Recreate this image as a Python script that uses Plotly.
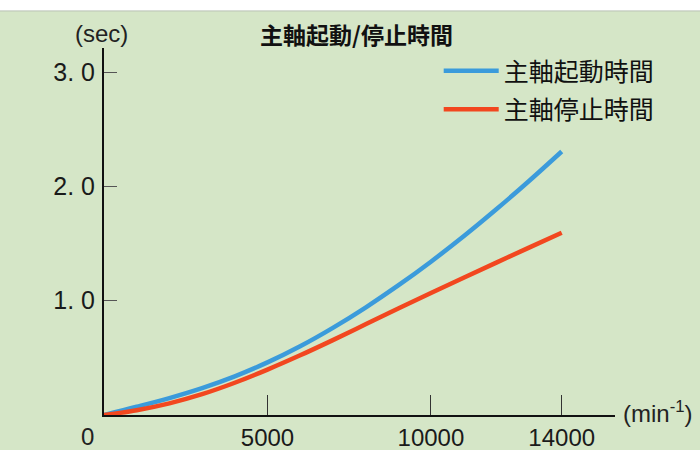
import plotly.graph_objects as go

# Data
speed = [0, 1000, 2000, 3000, 4000, 5000, 6000, 7000, 8000, 9000, 10000, 11000, 12000, 13000, 14000]
start_time = [0.0, 0.072, 0.148, 0.235, 0.338, 0.46, 0.601, 0.762, 0.94, 1.133, 1.341, 1.563, 1.799, 2.047, 2.305]
stop_time = [0.0, 0.042, 0.102, 0.182, 0.282, 0.397, 0.522, 0.655, 0.793, 0.931, 1.067, 1.201, 1.333, 1.464, 1.594]

series_names = ["主軸起動時間", "主軸停止時間"]
title_text = "主軸起動/停止時間"
x_tick_vals = [5000, 10000, 14000]
x_tick_text = ["5000", "10000", "14000"]
y_tick_vals = [1.0, 2.0, 3.0]
y_tick_text = ["1. 0", "2. 0", "3. 0"]

BG = "#d5e6c7"
BLUE = "#3b9bdb"
RED = "#f2471f"
FONT = "Noto Sans CJK JP, Liberation Sans, sans-serif"
NUMFONT = "Liberation Sans, sans-serif"

fig = go.Figure()
fig.add_trace(go.Scatter(x=speed, y=start_time, mode="lines", name=series_names[0],
                         legendgroup="a",
                         line=dict(color=BLUE, width=4.5, shape="spline", smoothing=1.0)))
fig.add_trace(go.Scatter(x=speed, y=stop_time, mode="lines", name=series_names[1],
                         legendgroup="b",
                         line=dict(color=RED, width=4.5, shape="spline", smoothing=1.0)))

fig.update_layout(
    template="none",
    width=700, height=450,
    margin=dict(l=104, r=85, t=48, b=35),
    paper_bgcolor=BG, plot_bgcolor=BG,
    font=dict(family=FONT, color="#1a1a1a"),
    showlegend=True,
    legend=dict(x=0.655, y=1.0, xanchor="left", yanchor="top",
                bgcolor="rgba(0,0,0,0)", borderwidth=0,
                font=dict(size=25, family=FONT, color="#111"),
                itemwidth=55, tracegroupgap=3),
    xaxis=dict(range=[0, 15630], showgrid=False, zeroline=False, automargin=False,
               showline=True, linecolor="#111", linewidth=2,
               tickmode="array", tickvals=x_tick_vals, ticktext=x_tick_text,
               ticks="inside", ticklen=20, tickwidth=1, tickcolor="#333",
               tickfont=dict(size=24, family=NUMFONT, color="#1a1a1a"),
               ticklabelstandoff=0),
    yaxis=dict(range=[0, 3.21], showgrid=False, zeroline=False, automargin=False,
               showline=True, linecolor="#111", linewidth=2,
               tickmode="array", tickvals=y_tick_vals, ticktext=y_tick_text,
               ticks="inside", ticklen=13, tickwidth=1, tickcolor="#555",
               tickfont=dict(size=25, family=NUMFONT, color="#1a1a1a"),
               ticklabelstandoff=2),
    annotations=[
        dict(text="<b>" + title_text + "</b>", xref="paper", yref="paper", x=0.494, y=1.038,
             xanchor="center", yanchor="middle", showarrow=False,
             font=dict(size=23, family=FONT, color="#111")),
        dict(text="(sec)", xref="paper", yref="paper", x=-0.004, y=1.040,
             xanchor="center", yanchor="middle", showarrow=False,
             font=dict(size=24, family=NUMFONT, color="#222")),
        dict(text="(min<sup>-1</sup>)", xref="paper", yref="paper", x=1.012, y=0.008,
             xanchor="left", yanchor="middle", showarrow=False,
             font=dict(size=24, family=NUMFONT, color="#222")),
        dict(text="0", xref="paper", yref="paper", x=-0.032, y=-0.058,
             xanchor="center", yanchor="middle", showarrow=False,
             font=dict(size=24, family=NUMFONT, color="#222")),
    ],
    shapes=[
        dict(type="rect", xref="paper", yref="paper", x0=-0.3, x1=1.3, y0=1.101, y1=1.2,
             fillcolor="white", line=dict(width=0), layer="below"),
        dict(type="line", xref="paper", yref="paper", x0=-0.3, x1=1.3, y0=1.101, y1=1.101,
             line=dict(color="#b9c2b4", width=1)),
    ],
)

fig.write_html("out.html",
               config={"displayModeBar": False},
               post_script="document.body.style.margin='0';document.body.style.background='" + BG + "';")
